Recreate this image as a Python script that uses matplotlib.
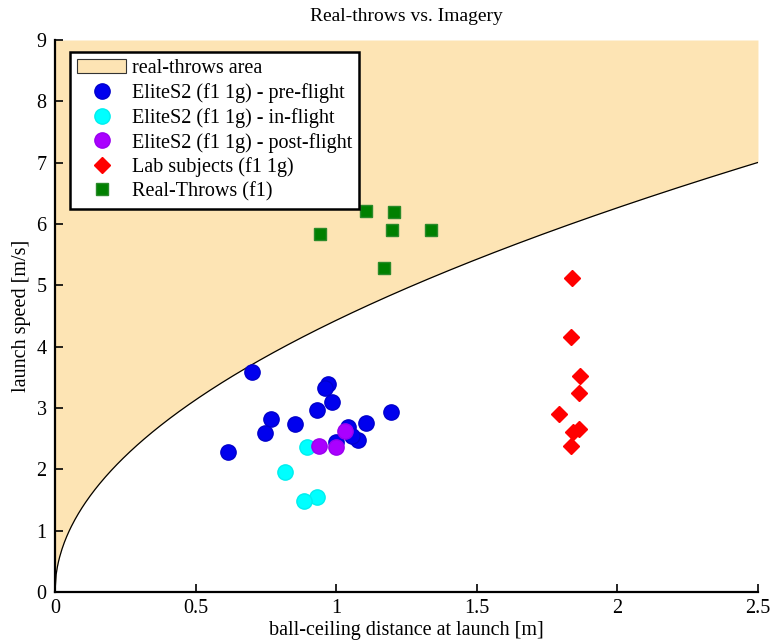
import matplotlib.pyplot as plt
import numpy as np

plt.rcParams['font.family'] = ['Liberation Serif', 'DejaVu Serif']

G = 9.81  # boundary of real throws: v = sqrt(2 g d)

pre_x = [0.700, 0.970, 0.960, 0.985, 0.931, 0.767, 0.855, 0.747, 0.616, 1.106, 1.194, 1.043, 1.079, 0.998, 1.056]
pre_y = [3.58, 3.39, 3.32, 3.10, 2.97, 2.82, 2.74, 2.59, 2.28, 2.76, 2.93, 2.69, 2.47, 2.45, 2.54]

in_x = [0.895, 0.817, 0.931, 0.884]
in_y = [2.36, 1.95, 1.55, 1.49]

post_x = [0.939, 0.998, 1.030]
post_y = [2.38, 2.36, 2.63]

lab_x = [1.838, 1.834, 1.867, 1.863, 1.792, 1.865, 1.841, 1.834]
lab_y = [5.12, 4.16, 3.52, 3.25, 2.91, 2.65, 2.61, 2.38]

real_x = [1.106, 1.207, 0.942, 1.198, 1.337, 1.170]
real_y = [6.22, 6.20, 5.83, 5.91, 5.91, 5.29]

fig = plt.figure(figsize=(7.71, 6.42), dpi=100)
ax = fig.add_axes([0.0713, 0.0779, 0.9118, 0.8598])

d = np.linspace(0, 2.5, 600)
v = np.sqrt(2 * G * d)
ax.fill_between(d, v, 9, color='#fde4b4', linewidth=0, label='real-throws area', zorder=1)
ax.plot(d, v, color='black', lw=0.9, zorder=2)

ax.plot(pre_x, pre_y, 'o', color='#0000ee', ms=11, mec='#0000cc', label='EliteS2 (f1 1g) - pre-flight', zorder=3)
ax.plot(in_x, in_y, 'o', color='#00ffff', ms=11, mec='#00eeee', label='EliteS2 (f1 1g) - in-flight', zorder=3)
ax.plot(post_x, post_y, 'o', color='#aa00ff', ms=11, mec='#9900ee', label='EliteS2 (f1 1g) - post-flight', zorder=3)
ax.plot(lab_x, lab_y, 'D', color='#ff0000', ms=8.5, label='Lab subjects (f1 1g)', zorder=3)
ax.plot(real_x, real_y, 's', color='#008000', ms=8.5, mec='#2a8a2a', label='Real-Throws (f1)', zorder=3)

ax.set_xlim(0, 2.5)
ax.set_ylim(0, 9)
ax.set_xticks([0, 0.5, 1, 1.5, 2, 2.5])
ax.set_xticklabels(['0', '0.5', '1', '1.5', '2', '2.5'])
ax.set_yticks(range(10))
ax.spines['top'].set_visible(False)
ax.spines['right'].set_visible(False)
ax.spines['left'].set_linewidth(1.6)
ax.spines['bottom'].set_linewidth(1.6)
ax.tick_params(direction='in', length=6, width=1.2, labelsize=14.5)
ax.tick_params(axis='x', pad=5)
ax.tick_params(axis='y', pad=6)

ax.set_title('Real-throws vs. Imagery', fontsize=14, pad=14)
ax.set_xlabel('ball-ceiling distance at launch [m]', fontsize=14.5, labelpad=2)
ax.set_ylabel('launch speed [m/s]', fontsize=14.5, labelpad=4)

handles, labels = ax.get_legend_handles_labels()
leg = ax.legend(handles, labels, loc='upper left', bbox_to_anchor=(0.022, 0.978),
                fontsize=14.5, frameon=True, fancybox=False, framealpha=1,
                edgecolor='black', borderpad=0.35, labelspacing=0.24, handlelength=2.4,
                handletextpad=0.3, borderaxespad=0)
leg.get_frame().set_linewidth(1.8)
leg.legend_handles[0].set_edgecolor('#333333')
leg.legend_handles[0].set_linewidth(0.8)

fig.savefig('out.png', dpi=100)
